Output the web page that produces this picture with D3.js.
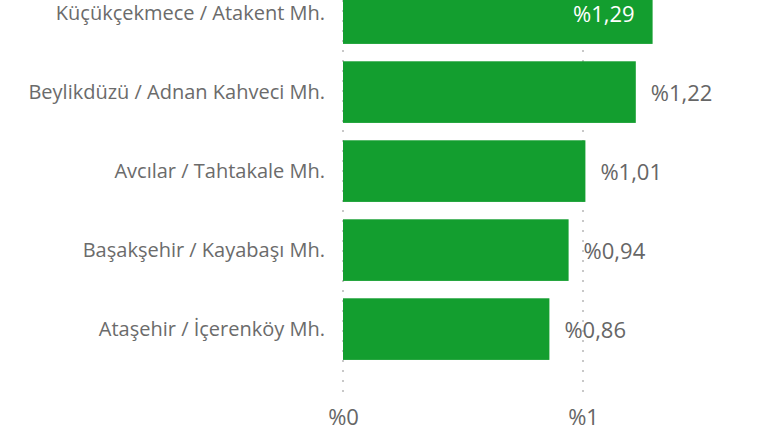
<!DOCTYPE html>
<html>
<head>
<meta charset="utf-8">
<script src="https://cdn.jsdelivr.net/npm/d3@7"></script>
<style>
  html, body { margin: 0; padding: 0; background: #fff; }
  svg { display: block; font-family: "Segoe UI", "Open Sans", sans-serif; }
</style>
</head>
<body>
<div id="chart"></div>
<script>
// dati
var categories = [
  "Küçükçekmece / Atakent Mh.",
  "Beylikdüzü / Adnan Kahveci Mh.",
  "Avcılar / Tahtakale Mh.",
  "Başakşehir / Kayabaşı Mh.",
  "Ataşehir / İçerenköy Mh."
];
var values = [1.29, 1.22, 1.01, 0.94, 0.86];
var tickValues = [0, 1];
var tickLabels = ["%0", "%1"];

var width = 766;
var height = 433;

var svg = d3.select("#chart").append("svg")
  .attr("width", width)
  .attr("height", height);

var x = d3.scaleLinear()
  .domain([0, 1])
  .range([343, 583]);

var y = d3.scaleBand()
  .domain(categories)
  .range([-26.4, 368.6])
  .paddingInner(0.22)
  .paddingOuter(0.11);

var fmt = function(v) { return "%" + String(v).replace(".", ","); };

// griglia tratteggiata
svg.append("g").selectAll("line")
  .data(tickValues)
  .enter()
  .append("line")
  .attr("x1", function(d) { return x(d); })
  .attr("x2", function(d) { return x(d); })
  .attr("y1", 0)
  .attr("y2", 395)
  .attr("stroke", "#c8c8c8")
  .attr("stroke-width", 2)
  .attr("stroke-dasharray", "2,8");

// barre
svg.append("g").selectAll("rect")
  .data(values)
  .enter()
  .append("rect")
  .attr("x", x(0))
  .attr("y", function(d, i) { return y(categories[i]); })
  .attr("width", function(d) { return x(d) - x(0); })
  .attr("height", y.bandwidth())
  .attr("fill", "#139e2f");

// etichette categorie
svg.append("g").selectAll("text")
  .data(categories)
  .enter()
  .append("text")
  .attr("x", 325)
  .attr("y", function(d) { return y(d) + y.bandwidth() / 2; })
  .attr("dy", "0.35em")
  .attr("text-anchor", "end")
  .attr("fill", "#6b6b6b")
  .style("font-size", "20px")
  .text(function(d) { return d; });

// etichette valori
var vmax = d3.max(values);
svg.append("g").selectAll("text")
  .data(values)
  .enter()
  .append("text")
  .attr("x", function(d) { return d == vmax ? x(d) - 18 : x(d) + 15; })
  .attr("y", function(d, i) { return y(categories[i]) + y.bandwidth() / 2 + 1; })
  .attr("dy", "0.35em")
  .attr("text-anchor", function(d) { return d == vmax ? "end" : "start"; })
  .attr("fill", function(d) { return d == vmax ? "#ffffff" : "#666666"; })
  .style("font-size", "22px")
  .text(fmt);

// asse x
var xAxis = d3.axisBottom(x)
  .tickValues(tickValues)
  .tickFormat(function(d, i) { return tickLabels[i]; })
  .tickSize(0)
  .tickPadding(0);

var gx = svg.append("g")
  .attr("transform", "translate(0,409)")
  .call(xAxis);
gx.select(".domain").remove();
gx.selectAll("text")
  .attr("fill", "#666666")
  .style("font-size", "22px")
  .style("font-family", "\"Segoe UI\", \"Open Sans\", sans-serif");
</script>
</body>
</html>
